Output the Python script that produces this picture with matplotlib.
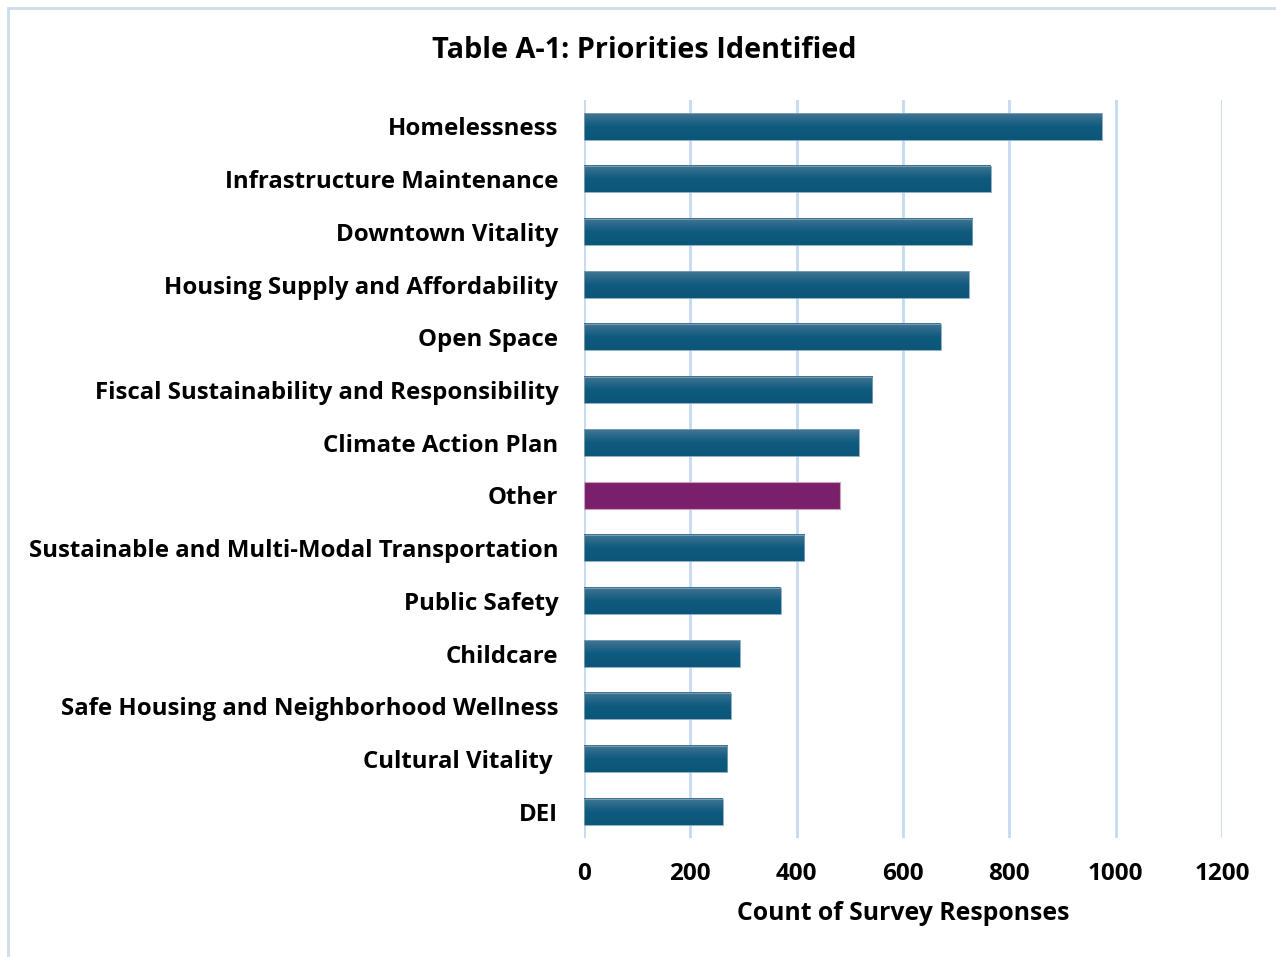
import matplotlib
matplotlib.use("Agg")
import matplotlib.pyplot as plt
import numpy as np
from matplotlib.patches import Rectangle
from matplotlib.colors import LinearSegmentedColormap

categories = ["Homelessness", "Infrastructure Maintenance", "Downtown Vitality",
              "Housing Supply and Affordability", "Open Space",
              "Fiscal Sustainability and Responsibility", "Climate Action Plan",
              "Other", "Sustainable and Multi-Modal Transportation", "Public Safety",
              "Childcare", "Safe Housing and Neighborhood Wellness",
              "Cultural Vitality ", "DEI"]
values = [974, 765, 730, 724, 671, 542, 517, 481, 414, 370, 293, 276, 269, 261]
highlight = "Other"
xticks = [0, 200, 400, 600, 800, 1000, 1200]

plt.rcParams['font.family'] = ['Open Sans', 'DejaVu Sans']

fig = plt.figure(figsize=(12.76, 9.57), dpi=100)
ax = fig.add_axes([0.4577, 0.1243, 0.5, 0.7712])

ypos = np.arange(len(categories))
grad = np.linspace(0, 1, 64).reshape(-1, 1)
cmap = LinearSegmentedColormap.from_list("g", ["#437594", "#0f5b7f", "#0b5679"])
h = 0.5
for y, v, c in zip(ypos, values, categories):
    if c == highlight:
        ax.barh(y, v, height=h, color="#7a1f6a", edgecolor="#c9a0c0", linewidth=0.8, zorder=3)
    else:
        ax.imshow(grad, cmap=cmap, aspect='auto', extent=[0, v, y + h / 2, y - h / 2],
                  zorder=3, interpolation='bilinear')
        ax.barh(y, v, height=h, facecolor='none', edgecolor="#7fa3bb", linewidth=0.6, zorder=4)

ax.set_xlim(0, 1200)
ax.set_ylim(len(categories) - 0.5, -0.5)
ax.set_yticks(ypos)
ax.set_yticklabels(categories, fontsize=17.3, fontweight='bold')
ax.set_xticks(xticks)
ax.set_xticklabels([str(t) for t in xticks], fontsize=17.5, fontweight='bold')
ax.tick_params(axis='y', length=0, pad=18.5)
ax.tick_params(axis='x', length=0, pad=17)
ax.grid(axis='x', color="#c5daf0", linewidth=2, zorder=0)
ax.set_axisbelow(True)
for s in ax.spines.values():
    s.set_visible(False)
ax.set_xlabel("Count of Survey Responses", fontsize=17.8, fontweight='bold', labelpad=11)

fig.text(0.505, 0.947, "Table A-1: Priorities Identified", ha='center', va='center',
         fontsize=20.8, fontweight='bold')

fig.patches.append(Rectangle((8 / 1276, -0.01), 1.02, 1 - 8 / 957 + 0.01,
                             transform=fig.transFigure, fill=False,
                             edgecolor="#cfdcec", linewidth=2))

fig.savefig("out.png", dpi=100, facecolor='white')
